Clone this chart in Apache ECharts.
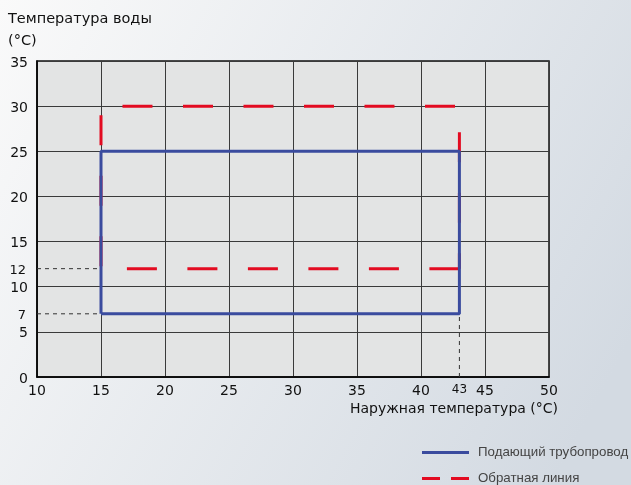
<!DOCTYPE html>
<html>
<head>
<meta charset="utf-8">
<script src="https://cdn.jsdelivr.net/npm/echarts@6/dist/echarts.min.js"></script>
<style>
  html, body { margin: 0; padding: 0; }
  #chart { width: 631px; height: 485px; }
</style>
</head>
<body>
<div id="chart"></div>
<script>
// data
const yTicks = [0, 5, 7, 10, 12, 15, 20, 25, 30, 35];
const xTicks = [10, 15, 20, 25, 30, 35, 40, 43, 45, 50];
const smallTicks = [7, 12, 43];

// supply line (blue rectangle)
const supplyLine = [[15, 7], [15, 25], [43, 25], [43, 7], [15, 7]];
// return line (red dashed rectangle), drawn as two runs
const returnUpper = [[15, 12], [15, 30], [43, 30], [43, 12]];
const returnLower = [[43, 12], [15, 12]];

// helper dashed guides
const guide12 = [[10, 12], [15, 12]];
const guide7 = [[10, 7], [15, 7]];
const guide43 = [[43, 0], [43, 7]];

const FONT = "DejaVu Sans";
const RED = "#e30b21";
const BLUE = "#3a4b9e";
const SUPPLY = "Подающий трубопровод";
const RETURN = "Обратная линия";

const chart = echarts.init(document.getElementById("chart"));

const guideSeries = (data) => ({
    type: "line",
    data: data,
    symbol: "none",
    silent: true,
    lineStyle: { color: "#333", width: 1, type: [4, 4] },
    z: 1,
});

const redSeries = (data, offset) => ({
    name: RETURN,
    type: "line",
    data: data,
    symbol: "none",
    lineStyle: { color: RED, width: 3, type: [30, 30.5], dashOffset: offset, cap: "butt" },
    itemStyle: { color: RED },
    z: 3,
});

// one legend box per entry, so the two rows do not wrap
const legendBox = (top, item) => ({
    orient: "vertical",
    left: 422,
    top: top,
    padding: 0,
    itemWidth: 47,
    itemHeight: 3,
    textStyle: {
        fontFamily: "Liberation Sans",
        fontSize: 13.3,
        color: "#444",
        padding: [0, 0, 0, 4],
    },
    data: [item],
});

const option = {
    animation: false,
    backgroundColor: new echarts.graphic.LinearGradient(0, 0, 1, 0.7, [
        { offset: 0, color: "#fafafa" },
        { offset: 1, color: "#d3dae2" },
    ]),
    title: [
        {
            text: "Температура воды\n(°C)",
            left: 8,
            top: 8,
            padding: 0,
            textStyle: {
                fontFamily: FONT,
                fontSize: 14.5,
                fontWeight: "normal",
                color: "#111",
                lineHeight: 22,
            },
        },
        {
            text: "Наружная температура (°C)",
            right: 73,
            top: 402,
            padding: 0,
            textStyle: {
                fontFamily: FONT,
                fontSize: 14,
                fontWeight: "normal",
                color: "#111",
            },
        },
    ],
    legend: [
        legendBox(446, { name: SUPPLY, icon: "rect", itemStyle: { color: BLUE } }),
        legendBox(472, {
            name: RETURN,
            icon: "path://M0,0H18V3H0Z M29,0H47V3H29Z",
            itemStyle: { color: RED },
        }),
    ],
    grid: {
        left: 37,
        right: 82,
        top: 61,
        bottom: 108,
        show: true,
        backgroundColor: "#e3e4e4",
        borderWidth: 1.5,
        borderColor: "#111",
    },
    xAxis: {
        type: "value",
        min: 10,
        max: 50,
        interval: 5,
        axisLine: { show: true, onZero: false, lineStyle: { color: "#000", width: 1.5 } },
        axisTick: { show: false },
        splitLine: { show: true, lineStyle: { color: "#3a3a3a", width: 1 } },
        axisLabel: {
            customValues: xTicks,
            margin: 7,
            fontFamily: FONT,
            fontSize: 14,
            color: "#111",
            formatter: (v) => (smallTicks.includes(v) ? "{s|" + v + "}" : String(v)),
            rich: { s: { fontFamily: FONT, fontSize: 12, color: "#111", padding: [0, 0, 3, 0] } },
        },
    },
    yAxis: {
        type: "value",
        min: 0,
        max: 35,
        interval: 5,
        axisLine: { show: true, lineStyle: { color: "#000", width: 1.5 } },
        axisTick: { show: false },
        splitLine: { show: true, lineStyle: { color: "#3a3a3a", width: 1 } },
        axisLabel: {
            customValues: yTicks,
            margin: 9,
            padding: [4, 0, 0, 0],
            fontFamily: FONT,
            fontSize: 14,
            color: "#111",
            formatter: (v) => (smallTicks.includes(v) ? "{s|" + v + "}" : String(v)),
            rich: { s: { fontFamily: FONT, fontSize: 13, color: "#111", padding: [0, 2, 0, 0] } },
        },
    },
    series: [
        guideSeries(guide12),
        guideSeries(guide7),
        guideSeries(guide43),
        redSeries(returnUpper, 58),
        redSeries(returnLower, 0),
        {
            name: SUPPLY,
            type: "line",
            data: supplyLine,
            symbol: "none",
            lineStyle: { color: BLUE, width: 3 },
            itemStyle: { color: BLUE },
            z: 4,
        },
    ],
};

chart.setOption(option);
</script>
</body>
</html>
